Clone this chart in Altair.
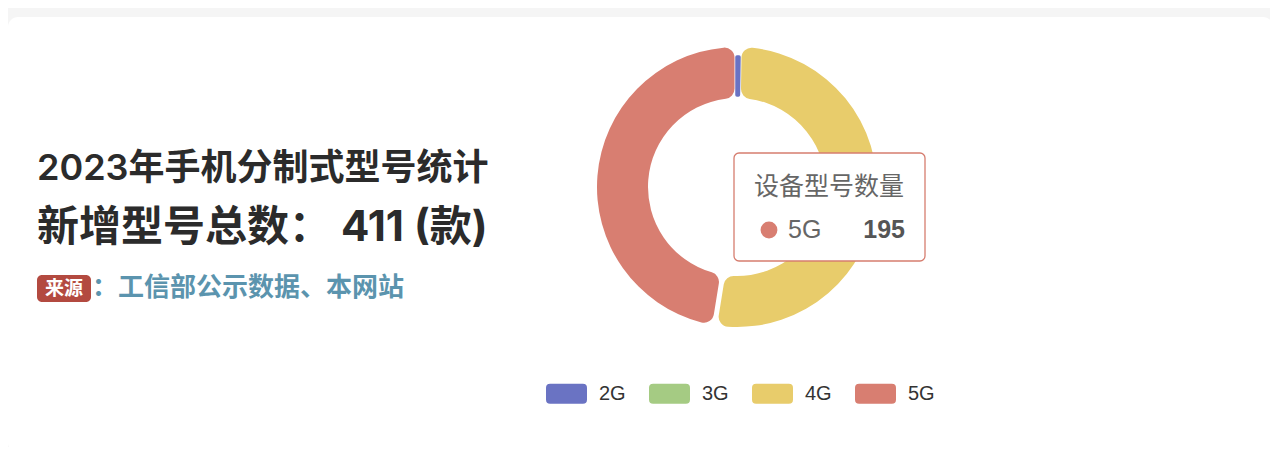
import altair as alt
import pandas as pd

# ---- data ----
GENS = ["2G", "3G", "4G", "5G"]
COUNTS = [1, 0, 215, 195]
COLORS = ["#6a73c3", "#a5cb83", "#e8cc6b", "#d87e71"]

TITLE1 = "2023年手机分制式型号统计"
TITLE2 = "新增型号总数： 411 (款)"
BADGE = "来源"
COLON = "："
SOURCE = "工信部公示数据、本网站"
TIP_TITLE = "设备型号数量"
TIP_NAME = "5G"
TIP_VALUE = "195"

df = pd.DataFrame({"gen": GENS, "value": COUNTS, "idx": list(range(len(GENS)))})

FONT = "Inter, Liberation Sans, Noto Sans CJK SC"
CX, CY = 729, 179

color = alt.Color(
    "gen:N",
    scale=alt.Scale(domain=GENS, range=COLORS),
    legend=alt.Legend(
        title=None,
        orient="none",
        legendX=538,
        legendY=365,
        direction="horizontal",
        symbolType="M-0.8,-0.49H0.8Q1,-0.49,1,-0.29V0.29Q1,0.49,0.8,0.49H-0.8Q-1,0.49,-1,0.29V-0.29Q-1,-0.49,-0.8,-0.49Z",
        symbolSize=1681,
        symbolStrokeWidth=0,
        symbolOpacity=1,
        labelFontSize=20,
        labelFont="Liberation Sans",
        labelColor="#333333",
        labelOffset=12,
        columnPadding=23,
    ),
)


def one(t):
    return alt.Chart(pd.DataFrame({"t": [t]}))


card = one("").mark_rect(color="white", cornerRadius=10).encode(
    x=alt.value(0), x2=alt.value(1265), y=alt.value(9), y2=alt.value(445)
)

ring = alt.Chart(df).mark_arc(
    innerRadius=89, outerRadius=140, cornerRadius=10, padAngle=0.03
).encode(
    theta=alt.Theta("value:Q", stack=True),
    order=alt.Order("idx:O"),
    color=color,
    x=alt.value(CX),
    y=alt.value(CY),
)

tiny = alt.Chart(df).transform_filter(alt.datum.gen == "2G").mark_arc(
    innerRadius=92, outerRadius=130, stroke=COLORS[0], strokeWidth=3.5, strokeJoin="round"
).encode(
    theta=alt.Theta("value:Q", stack=True),
    order=alt.Order("idx:O"),
    color=color,
    x=alt.value(CX),
    y=alt.value(CY),
)

t1 = one(TITLE1).mark_text(
    font=FONT, fontSize=36, fontWeight=600, color="#2b2b2b", align="left", baseline="alphabetic"
).encode(x=alt.value(29), y=alt.value(172), text="t:N")

t2 = one(TITLE2).mark_text(
    font=FONT, fontSize=42, fontWeight=700, color="#2b2b2b", align="left", baseline="alphabetic"
).encode(x=alt.value(29), y=alt.value(233), text="t:N")

badge = one("").mark_rect(color="#b34a40", cornerRadius=5).encode(
    x=alt.value(29), x2=alt.value(83), y=alt.value(267), y2=alt.value(294)
)
badge_t = one(BADGE).mark_text(
    font=FONT, fontSize=19, fontWeight=700, color="white", align="center", baseline="middle"
).encode(x=alt.value(56), y=alt.value(281), text="t:N")
colon_t = one(COLON).mark_text(
    font=FONT, fontSize=26, fontWeight=700, color="#5b94ae", align="left", baseline="middle"
).encode(x=alt.value(84), y=alt.value(280), text="t:N")
src_t = one(SOURCE).mark_text(
    font=FONT, fontSize=26, fontWeight=700, color="#5b94ae", align="left", baseline="middle"
).encode(x=alt.value(110), y=alt.value(280), text="t:N")

tip_box = one("").mark_rect(
    fill="white", stroke="#d67d6f", strokeWidth=1.3, cornerRadius=5
).encode(x=alt.value(726), x2=alt.value(917), y=alt.value(145), y2=alt.value(253))
tip_title = one(TIP_TITLE).mark_text(
    font=FONT, fontSize=25, color="#666666", align="left", baseline="middle"
).encode(x=alt.value(746), y=alt.value(179), text="t:N")
tip_dot = one("").mark_point(filled=True, size=283, color=COLORS[3], opacity=1).encode(
    x=alt.value(761), y=alt.value(222)
)
tip_name = one(TIP_NAME).mark_text(
    font="Liberation Sans", fontSize=25, color="#666666", align="left", baseline="middle"
).encode(x=alt.value(780), y=alt.value(222), text="t:N")
tip_val = one(TIP_VALUE).mark_text(
    font="Liberation Sans", fontSize=25, fontWeight=700, color="#555555", align="right", baseline="middle"
).encode(x=alt.value(897), y=alt.value(222), text="t:N")

chart = alt.layer(
    card, ring, tiny, t1, t2, badge, badge_t, colon_t, src_t,
    tip_box, tip_title, tip_dot, tip_name, tip_val
).properties(
    width=1262,
    height=439,
    padding=0,
    background="#f5f5f5",
    autosize=alt.AutoSizeParams(type="fit", contains="padding"),
).configure_view(stroke=None)

chart.save("out.html", embed_options={"renderer": "svg", "actions": False})
